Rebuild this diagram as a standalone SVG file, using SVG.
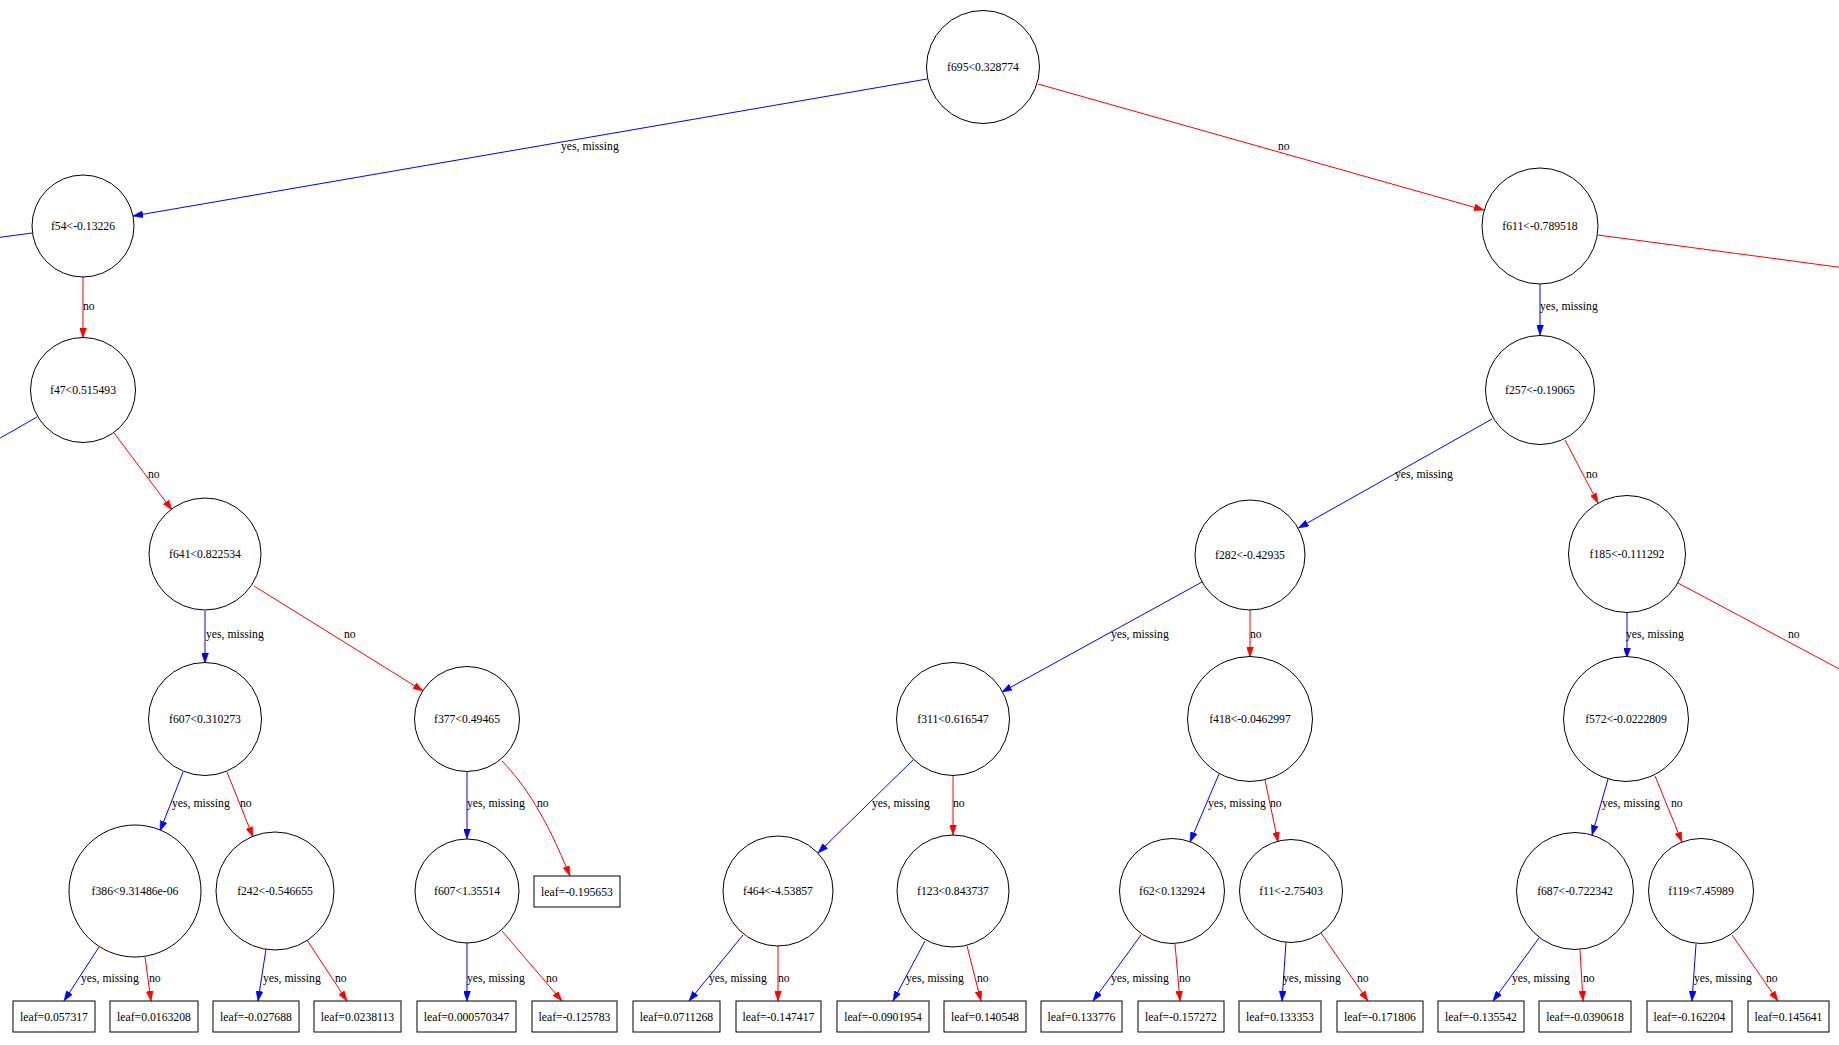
<svg xmlns="http://www.w3.org/2000/svg" width="1839" height="1045" viewBox="0 0 1839 1045">
<style>
.n circle{fill:#fff;stroke:#000;stroke-width:1}
.n rect{fill:#fff;stroke:#000;stroke-width:1}
.n text{font-family:"Liberation Serif","Times New Roman",serif;font-size:11.7px;fill:#000;text-anchor:middle}
.e path{fill:none;stroke-width:1}
.y{stroke:#0000ff}
.r{stroke:#ff0000}
.y.a{marker-end:url(#ab)}
.r.a{marker-end:url(#ar)}
.lbl{font-family:"Liberation Serif","Times New Roman",serif;font-size:11.7px;fill:#000}
</style>
<defs>
<marker id="ab" viewBox="0 0 10 7" refX="10" refY="3.5" markerWidth="10" markerHeight="7" markerUnits="userSpaceOnUse" orient="auto"><path d="M0,0 L10,3.5 L0,7 z" fill="#0000ff" stroke="#0000ff" stroke-width="0.5"/></marker>
<marker id="ar" viewBox="0 0 10 7" refX="10" refY="3.5" markerWidth="10" markerHeight="7" markerUnits="userSpaceOnUse" orient="auto"><path d="M0,0 L10,3.5 L0,7 z" fill="#ff0000" stroke="#ff0000" stroke-width="0.5"/></marker>
</defs>
<rect width="1839" height="1045" fill="#fff"/>

<g id="edges" class="e">
<path class="y a" d="M927,79 L133,216"/>
<path class="r a" d="M1038,84 L1484,210"/>
<path class="y" d="M32,233 L-5,238"/>
<path class="r a" d="M83,277 L83,338"/>
<path class="r" d="M1598,235 L1845,268"/>
<path class="y a" d="M1540,284 L1540,335"/>
<path class="y" d="M37,417 L-5,441"/>
<path class="r a" d="M114,433 L172,510"/>
<path class="y a" d="M1492,419 L1298.5,528"/>
<path class="r a" d="M1565,440 L1598,503"/>
<path class="y a" d="M205,611 L205,663"/>
<path class="r a" d="M254,586 L423,691"/>
<path class="y a" d="M1202,582 L1002,692"/>
<path class="r a" d="M1250,610 L1250,657"/>
<path class="y a" d="M1627,613 L1627,658"/>
<path class="r" d="M1678,583 L1845,672"/>
<path class="y a" d="M183,772 L160,831"/>
<path class="r a" d="M227,772 L253,837"/>
<path class="y a" d="M467,772 L467,839"/>
<path class="r a" d="M502,761 C525,785 545,815 570,876"/>
<path class="y a" d="M913,760 L818,853"/>
<path class="r a" d="M953,776 L953,835"/>
<path class="y a" d="M1219,774 L1190,842"/>
<path class="r a" d="M1265,780 L1278,842"/>
<path class="y a" d="M1608,779 L1592,835"/>
<path class="r a" d="M1655,776 L1682,842"/>
<path class="y a" d="M99,947 L64,1001"/>
<path class="r a" d="M145,957 L151,1001"/>
<path class="y a" d="M266,949 L258,1001"/>
<path class="r a" d="M307,940 L347,1001"/>
<path class="y a" d="M467,943 L467,1001"/>
<path class="r a" d="M502,931 L562,1001"/>
<path class="y a" d="M743,935 L689,1001"/>
<path class="r a" d="M778,946 L778,1001"/>
<path class="y a" d="M925,941 L893,1001"/>
<path class="r a" d="M967,946 L981,1001"/>
<path class="y a" d="M1141,935 L1093,1001"/>
<path class="r a" d="M1175,944 L1180,1001"/>
<path class="y a" d="M1286,942 L1282,1001"/>
<path class="r a" d="M1321,933 L1368,1001"/>
<path class="y a" d="M1539,938 L1493,1001"/>
<path class="r a" d="M1580,950 L1583,1001"/>
<path class="y a" d="M1696,944 L1692,1001"/>
<path class="r a" d="M1732,935 L1778,1001"/>
<g class="lbls">
<text class="lbl" x="561" y="150">yes, missing</text>
<text class="lbl" x="1278" y="150">no</text>
<text class="lbl" x="83" y="310">no</text>
<text class="lbl" x="1540" y="310">yes, missing</text>
<text class="lbl" x="148" y="478">no</text>
<text class="lbl" x="1395" y="478">yes, missing</text>
<text class="lbl" x="1586" y="478">no</text>
<text class="lbl" x="206" y="638">yes, missing</text>
<text class="lbl" x="344" y="638">no</text>
<text class="lbl" x="1111" y="638">yes, missing</text>
<text class="lbl" x="1250" y="638">no</text>
<text class="lbl" x="1626" y="638">yes, missing</text>
<text class="lbl" x="1788" y="638">no</text>
<text class="lbl" x="172" y="807">yes, missing</text>
<text class="lbl" x="240" y="807">no</text>
<text class="lbl" x="467" y="807">yes, missing</text>
<text class="lbl" x="537" y="807">no</text>
<text class="lbl" x="872" y="807">yes, missing</text>
<text class="lbl" x="953" y="807">no</text>
<text class="lbl" x="1208" y="807">yes, missing</text>
<text class="lbl" x="1270" y="807">no</text>
<text class="lbl" x="1602" y="807">yes, missing</text>
<text class="lbl" x="1671" y="807">no</text>
<text class="lbl" x="81" y="982">yes, missing</text>
<text class="lbl" x="149" y="982">no</text>
<text class="lbl" x="263" y="982">yes, missing</text>
<text class="lbl" x="335" y="982">no</text>
<text class="lbl" x="467" y="982">yes, missing</text>
<text class="lbl" x="546" y="982">no</text>
<text class="lbl" x="709" y="982">yes, missing</text>
<text class="lbl" x="778" y="982">no</text>
<text class="lbl" x="906" y="982">yes, missing</text>
<text class="lbl" x="977" y="982">no</text>
<text class="lbl" x="1111" y="982">yes, missing</text>
<text class="lbl" x="1179" y="982">no</text>
<text class="lbl" x="1283" y="982">yes, missing</text>
<text class="lbl" x="1357" y="982">no</text>
<text class="lbl" x="1512" y="982">yes, missing</text>
<text class="lbl" x="1583" y="982">no</text>
<text class="lbl" x="1694" y="982">yes, missing</text>
<text class="lbl" x="1766" y="982">no</text>
</g>
</g>

<g id="n0" class="n"><circle cx="983" cy="67" r="56.5"/><text x="983" y="71">f695&lt;0.328774</text></g>
<g id="n1" class="n"><circle cx="83" cy="226" r="51"/><text x="83" y="230">f54&lt;-0.13226</text></g>
<g id="n2" class="n"><circle cx="1540" cy="226" r="58"/><text x="1540" y="230">f611&lt;-0.789518</text></g>
<g id="n4" class="n"><circle cx="83" cy="390" r="52.5"/><text x="83" y="394">f47&lt;0.515493</text></g>
<g id="n5" class="n"><circle cx="1540" cy="390" r="54.5"/><text x="1540" y="394">f257&lt;-0.19065</text></g>
<g id="n10" class="n"><circle cx="205" cy="554" r="56"/><text x="205" y="558">f641&lt;0.822534</text></g>
<g id="n11" class="n"><circle cx="1250" cy="555" r="55"/><text x="1250" y="559">f282&lt;-0.42935</text></g>
<g id="n12" class="n"><circle cx="1627" cy="554" r="58.5"/><text x="1627" y="558">f185&lt;-0.111292</text></g>
<g id="n21" class="n"><circle cx="205" cy="719" r="56.5"/><text x="205" y="723">f607&lt;0.310273</text></g>
<g id="n22" class="n"><circle cx="467" cy="719" r="52.5"/><text x="467" y="723">f377&lt;0.49465</text></g>
<g id="n23" class="n"><circle cx="953" cy="719" r="56.5"/><text x="953" y="723">f311&lt;0.616547</text></g>
<g id="n24" class="n"><circle cx="1250" cy="719" r="62.5"/><text x="1250" y="723">f418&lt;-0.0462997</text></g>
<g id="n25" class="n"><circle cx="1626" cy="719" r="62.5"/><text x="1626" y="723">f572&lt;-0.0222809</text></g>
<g id="n40" class="n"><circle cx="135" cy="891" r="66"/><text x="135" y="895">f386&lt;9.31486e-06</text></g>
<g id="n41" class="n"><circle cx="275" cy="891" r="59"/><text x="275" y="895">f242&lt;-0.546655</text></g>
<g id="n42" class="n"><circle cx="467" cy="891" r="52"/><text x="467" y="895">f607&lt;1.35514</text></g>
<g id="n43" class="n"><rect x="534" y="876" width="86" height="31"/><text x="577" y="895.5">leaf=-0.195653</text></g>
<g id="n44" class="n"><circle cx="778" cy="891" r="55"/><text x="778" y="895">f464&lt;-4.53857</text></g>
<g id="n45" class="n"><circle cx="953" cy="891" r="56"/><text x="953" y="895">f123&lt;0.843737</text></g>
<g id="n46" class="n"><circle cx="1172" cy="891" r="52.5"/><text x="1172" y="895">f62&lt;0.132924</text></g>
<g id="n47" class="n"><circle cx="1291" cy="891" r="51.5"/><text x="1291" y="895">f11&lt;-2.75403</text></g>
<g id="n48" class="n"><circle cx="1575" cy="891" r="58.5"/><text x="1575" y="895">f687&lt;-0.722342</text></g>
<g id="n49" class="n"><circle cx="1701" cy="891" r="52.5"/><text x="1701" y="895">f119&lt;7.45989</text></g>

<g id="l1" class="n"><rect x="13" y="1001" width="82" height="31"/><text x="54" y="1020.5">leaf=0.057317</text></g>
<g id="l2" class="n"><rect x="110" y="1001" width="88" height="31"/><text x="154" y="1020.5">leaf=0.0163208</text></g>
<g id="l3" class="n"><rect x="213" y="1001" width="86" height="31"/><text x="256" y="1020.5">leaf=-0.027688</text></g>
<g id="l4" class="n"><rect x="314" y="1001" width="87" height="31"/><text x="357.5" y="1020.5">leaf=0.0238113</text></g>
<g id="l5" class="n"><rect x="417" y="1001" width="99" height="31"/><text x="466.5" y="1020.5">leaf=0.000570347</text></g>
<g id="l6" class="n"><rect x="532" y="1001" width="85" height="31"/><text x="574.5" y="1020.5">leaf=-0.125783</text></g>
<g id="l7" class="n"><rect x="633" y="1001" width="87" height="31"/><text x="676.5" y="1020.5">leaf=0.0711268</text></g>
<g id="l8" class="n"><rect x="736" y="1001" width="85" height="31"/><text x="778.5" y="1020.5">leaf=-0.147417</text></g>
<g id="l9" class="n"><rect x="837" y="1001" width="92" height="31"/><text x="883" y="1020.5">leaf=-0.0901954</text></g>
<g id="l10" class="n"><rect x="944" y="1001" width="82" height="31"/><text x="985" y="1020.5">leaf=0.140548</text></g>
<g id="l11" class="n"><rect x="1041" y="1001" width="81" height="31"/><text x="1081.5" y="1020.5">leaf=0.133776</text></g>
<g id="l12" class="n"><rect x="1138" y="1001" width="86" height="31"/><text x="1181" y="1020.5">leaf=-0.157272</text></g>
<g id="l13" class="n"><rect x="1239" y="1001" width="82" height="31"/><text x="1280" y="1020.5">leaf=0.133353</text></g>
<g id="l14" class="n"><rect x="1337" y="1001" width="86" height="31"/><text x="1380" y="1020.5">leaf=-0.171806</text></g>
<g id="l15" class="n"><rect x="1438" y="1001" width="86" height="31"/><text x="1481" y="1020.5">leaf=-0.135542</text></g>
<g id="l16" class="n"><rect x="1539" y="1001" width="92" height="31"/><text x="1585" y="1020.5">leaf=-0.0390618</text></g>
<g id="l17" class="n"><rect x="1647" y="1001" width="85" height="31"/><text x="1689.5" y="1020.5">leaf=-0.162204</text></g>
<g id="l18" class="n"><rect x="1748" y="1001" width="81" height="31"/><text x="1788.5" y="1020.5">leaf=0.145641</text></g>
</svg>
